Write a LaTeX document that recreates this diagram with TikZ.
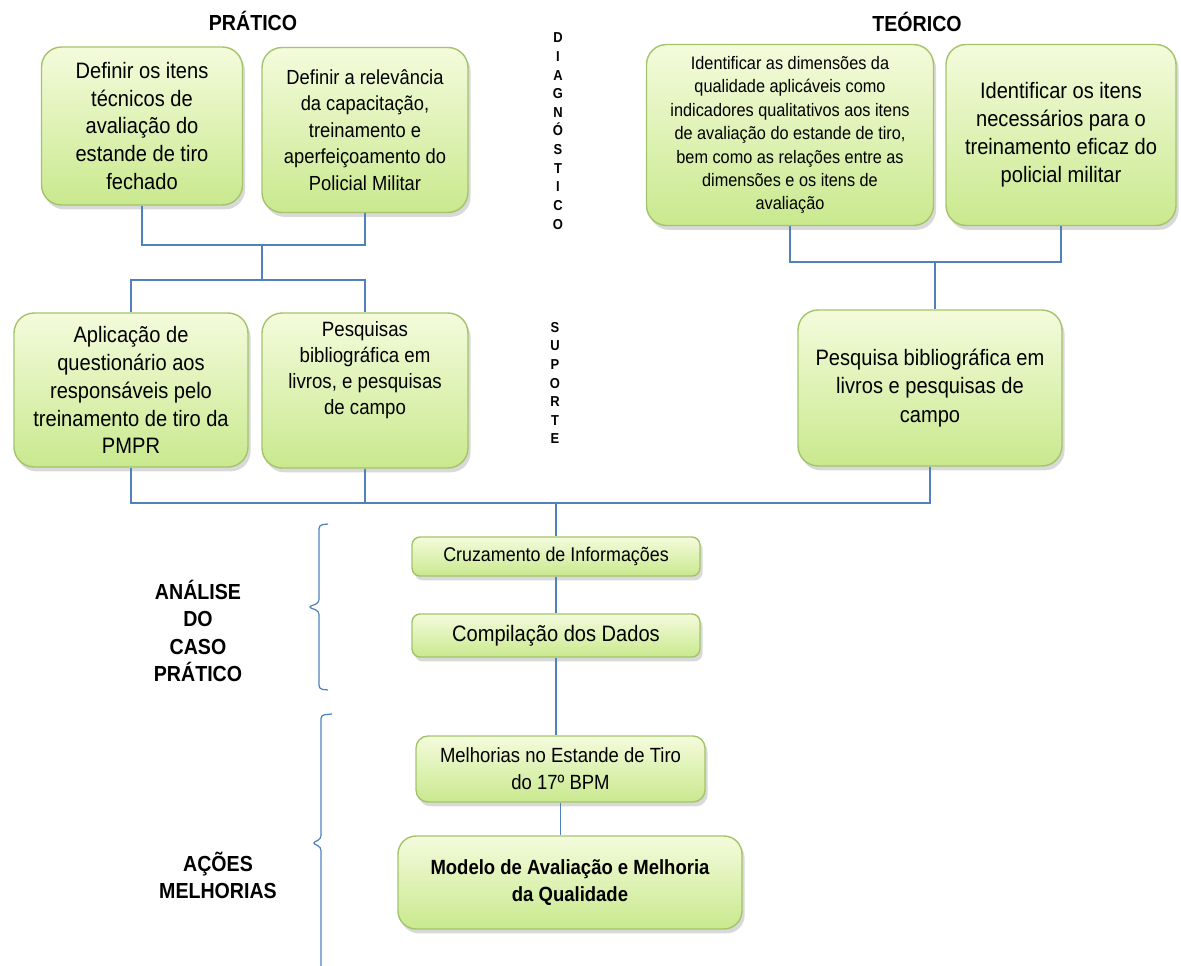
\documentclass[tikz,border=0pt]{standalone}
\usepackage{fontspec}
\setmainfont[FakeStretch=0.9]{Liberation Sans}
\usetikzlibrary{shadows}
\definecolor{boxtop}{HTML}{F4FBDC}
\definecolor{boxbot}{HTML}{C9E98E}
\definecolor{boxline}{HTML}{A3C46A}
\definecolor{linkblue}{HTML}{4F81BD}
\newcommand{\tam}[2]{\fontsize{#1}{#2}\selectfont}

\tikzset{
  caixa/.style={draw=boxline, line width=0.8pt, rounded corners=0.4cm,
    top color=boxtop, bottom color=boxbot, align=center, inner sep=2pt,
    drop shadow={opacity=0.3, shadow xshift=1.5pt, shadow yshift=-2.5pt}},
  liga/.style={draw=linkblue, line width=0.7pt},
  rotulo/.style={font=\bfseries\tam{12.4}{15.9}, align=center},
  vertical/.style={font=\bfseries\tam{8.2}{10.6}, align=center, inner sep=0pt},
}

\begin{document}
\begin{tikzpicture}[x=0.02cm, y=-0.02cm]
            \useasboundingbox (0,0) rectangle (1181,966);

            \node[rotulo] (pratico) at (253,21) {PRÁTICO};
            \node[rotulo] (teorico) at (917,22) {TEÓRICO};

            \node[vertical] (diag) at (558,131) {D\\I\\A\\G\\N\\Ó\\S\\T\\I\\C\\O};
            \node[vertical] (sup) at (555,383) {S\\U\\P\\O\\R\\T\\E};

            % diagnostico
            \node[caixa, minimum width=4.02cm, minimum height=3.16cm, font=\tam{12.7}{15.9}] (defA) at (142,126)
                {Definir os itens\\técnicos de\\avaliação do\\estande de tiro\\fechado};
            \node[caixa, minimum width=4.12cm, minimum height=3.3cm, font=\tam{11.6}{15}] (defB) at (365,130)
                {Definir a relevância\\da capacitação,\\treinamento e\\aperfeiçoamento do\\Policial Militar};
            \node[caixa, minimum width=5.74cm, minimum height=3.62cm, font=\tam{10.3}{13.3}] (idA) at (790,135)
                {Identificar as dimensões da\\qualidade aplicáveis como\\indicadores qualitativos aos itens\\de avaliação do estande de tiro,\\bem como as relações entre as\\dimensões e os itens de\\avaliação};
            \node[caixa, minimum width=4.6cm, minimum height=3.62cm, font=\tam{12.7}{15.9}] (idB) at (1061,135)
                {Identificar os itens\\necessários para o\\treinamento eficaz do\\policial militar};

            % suporte
            \node[caixa, minimum width=4.68cm, minimum height=3.08cm, font=\tam{12.7}{15.9}] (aplic) at (131,390)
                {Aplicação de\\questionário aos\\responsáveis pelo\\treinamento de tiro da\\PMPR};
            \node[caixa, minimum width=4.12cm, minimum height=3.1cm, font=\tam{11.8}{14.7}] (pesqA) at (365,390.5)
                {Pesquisas\\bibliográfica em\\livros, e pesquisas\\de campo\\\strut\\[-8pt]\strut};
            \node[caixa, minimum width=5.28cm, minimum height=3.12cm, font=\tam{12.7}{16}] (pesqB) at (930,388)
                {Pesquisa bibliográfica em\\livros e pesquisas de\\campo};

            % analise e acoes
            \node[caixa, rounded corners=0.16cm, minimum width=5.76cm, minimum height=0.78cm, font=\tam{11.3}{14}] (cruz) at (556,556.5)
                {Cruzamento de Informações};
            \node[caixa, rounded corners=0.16cm, minimum width=5.76cm, minimum height=0.86cm, font=\tam{12.7}{15}] (comp) at (556,635.5)
                {Compilação dos Dados};
            \node[caixa, rounded corners=0.24cm, minimum width=5.78cm, minimum height=1.32cm, font=\tam{11.7}{15.3}] (melh) at (560.5,769)
                {Melhorias no Estande de Tiro\\do 17º BPM};
            \node[caixa, rounded corners=0.36cm, minimum width=6.88cm, minimum height=1.86cm, font=\bfseries\tam{11.7}{15.3}] (modelo) at (570,882.5)
                {Modelo de Avaliação e Melhoria\\da Qualidade};

            \node[rotulo, font=\bfseries\tam{12.4}{15.7}] (analise) at (198,631) {ANÁLISE\\DO\\CASO\\PRÁTICO};
            \node[rotulo, font=\bfseries\tam{12.4}{15.4}] (acoes) at (218,875) {AÇÕES\\MELHORIAS};

            \coordinate (jP1) at (262,245);
            \coordinate (jP2) at (262,280);
            \coordinate (jT1) at (935,262);
            \coordinate (jB) at (556,503);

            \draw[liga] (defA.south) |- (jP1) -| (defB.south);
            \draw[liga] (jP1) -- (jP2);
            \draw[liga] (aplic.north) |- (jP2) -| (pesqA.north);
            \draw[liga] (idA.south) |- (jT1) -| (idB.south);
            \draw[liga] (jT1) -- (jT1 |- pesqB.north);
            \draw[liga] (aplic.south) |- (jB);
            \draw[liga] (pesqA.south) -- (pesqA.south |- jB);
            \draw[liga] (pesqB.south) |- (jB);
            \draw[liga] (jB) -- (cruz.north);
            \draw[liga] (cruz.south) -- (comp.north);
            \draw[liga] (comp.south) -- (comp.south |- melh.north);
            \draw[liga] (melh.south) -- (melh.south |- modelo.north);

            \draw[liga, rounded corners=2pt] (328,524) -- (319,525) -- (319,603) -- (308,607)
                -- (319,611) -- (319,689) -- (328,690);
            \draw[liga, rounded corners=2pt] (332,714) -- (321,715) -- (321,839) -- (312,843)
                -- (321,847) -- (321,966);
        \end{tikzpicture}
\end{document}
